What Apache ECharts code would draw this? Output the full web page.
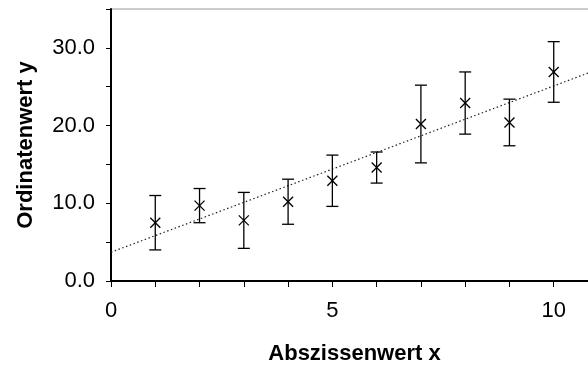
<!DOCTYPE html>
<html>
<head>
<meta charset="utf-8">
<script src="https://cdn.jsdelivr.net/npm/echarts@6/dist/echarts.min.js"></script>
<style>
  html, body { margin: 0; padding: 0; background: #fff; }
  #chart { width: 588px; height: 365px; }
</style>
</head>
<body>
<div id="chart"></div>
<script>
// Measured points: abscissa, mean ordinate, and symmetric error (± half range)
const xValues = [1, 2, 3, 4, 5, 6, 7, 8, 9, 10];
const yValues = [7.5, 9.7, 7.8, 10.2, 12.9, 14.6, 20.2, 22.9, 20.4, 26.9];
const yErrors = [3.5, 2.2, 3.6, 2.9, 3.3, 2.0, 5.0, 4.0, 3.0, 3.9];

// Linear trend line (endpoints across the plotted x range)
const trendX = [0, 11];
const trendY = [3.7, 27.24];

// Axis labels
const xTickLabels = ['0', '5', '10'];
const yTickLabels = ['0.0', '10.0', '20.0', '30.0'];

const points = xValues.map((x, i) => [x, yValues[i], yErrors[i]]);
const trend = trendX.map((x, i) => [x, trendY[i]]);

const FONT = '"Liberation Sans", Arial, sans-serif';
const chart = echarts.init(document.getElementById('chart'), null, { renderer: 'canvas' });

function renderErrorPoint(params, api) {
  const x = api.value(0), y = api.value(1), e = api.value(2);
  const c = api.coord([x, y]);
  const top = api.coord([x, y + e]);
  const bot = api.coord([x, y - e]);
  const cap = 6, m = 5;
  const style = { stroke: '#000', lineWidth: 1.3, fill: null };
  return {
    type: 'group',
    children: [
      { type: 'line', shape: { x1: top[0], y1: top[1], x2: bot[0], y2: bot[1] }, style },
      { type: 'line', shape: { x1: top[0] - cap, y1: top[1], x2: top[0] + cap, y2: top[1] }, style },
      { type: 'line', shape: { x1: bot[0] - cap, y1: bot[1], x2: bot[0] + cap, y2: bot[1] }, style },
      { type: 'line', shape: { x1: c[0] - m, y1: c[1] - m, x2: c[0] + m, y2: c[1] + m }, style },
      { type: 'line', shape: { x1: c[0] - m, y1: c[1] + m, x2: c[0] + m, y2: c[1] - m }, style }
    ]
  };
}

chart.setOption({
  animation: false,
  backgroundColor: '#fff',
  grid: {
    left: 111, top: 9, width: 487, height: 272,
    containLabel: false, outerBoundsMode: 'none',
    show: true, borderColor: '#9a9a9a', borderWidth: 1, backgroundColor: 'transparent'
  },
  xAxis: {
    type: 'value', min: 0, max: 11, interval: 1,
    name: 'Abszissenwert x', nameLocation: 'middle', nameGap: 62,
    nameTextStyle: { fontFamily: FONT, fontWeight: 'bold', fontSize: 22, color: '#000' },
    axisLine: { show: true, onZero: false, lineStyle: { color: '#000', width: 2 } },
    axisTick: { show: true, length: 6, lineStyle: { color: '#000', width: 1 } },
    axisLabel: {
      fontFamily: FONT, fontSize: 22, color: '#000', margin: 19,
      formatter: v => xTickLabels.indexOf(String(v)) >= 0 ? String(v) : ''
    },
    splitLine: { show: false }
  },
  yAxis: {
    type: 'value', min: 0, max: 35, interval: 5,
    name: 'Ordinatenwert y', nameLocation: 'middle', nameGap: 74, nameRotate: 90,
    nameTextStyle: { fontFamily: FONT, fontWeight: 'bold', fontSize: 22, color: '#000' },
    axisLine: { show: true, onZero: false, lineStyle: { color: '#000', width: 2 } },
    axisTick: { show: true, length: 5, lineStyle: { color: '#000', width: 1 } },
    axisLabel: {
      fontFamily: FONT, fontSize: 22, color: '#000', margin: 16,
      formatter: v => {
        const s = v.toFixed(1);
        return yTickLabels.indexOf(s) >= 0 ? s : '';
      }
    },
    splitLine: { show: false }
  },
  series: [
    {
      type: 'line',
      data: trend,
      symbol: 'none',
      silent: true,
      lineStyle: { color: '#222', width: 1.2, type: [1.5, 2.5] },
      z: 1
    },
    {
      type: 'custom',
      data: points,
      renderItem: renderErrorPoint,
      encode: { x: 0, y: [1, 2] },
      z: 2
    }
  ]
});
</script>
</body>
</html>
